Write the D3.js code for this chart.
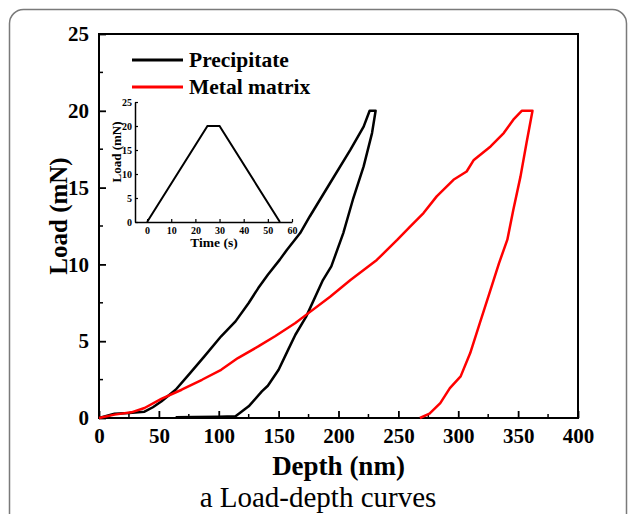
<!DOCTYPE html>
<html><head><meta charset="utf-8">
<script src="https://cdn.jsdelivr.net/npm/d3@7"></script>
<style>body{margin:0;background:#fff}svg{display:block}</style>
</head><body><svg id="c" width="629" height="514"></svg>
<script>
// ---- data ----
const seriesNames = ["Precipitate", "Metal matrix"];
const precipDepth = [0,13,25,38,45,52,64,75,88,102,114,125,133,141,151,157,168,176,193,210,221,226,231,228,221,212,204,194,187,173,164,158,150,141,136,125,114,100,80,64];
const precipLoad  = [0,0.28,0.33,0.41,0.7,1.07,1.84,2.82,4.01,5.32,6.29,7.49,8.46,9.33,10.31,10.96,12.04,13.12,15.3,17.47,18.97,20,20,18.55,16.38,14.21,12.04,9.87,8.98,6.6,5.42,4.45,3.14,2.1,1.73,0.76,0.11,0.08,0.06,0.05];
const metalDepth = [0,13,27,38,52,69,86,102,116,133,147,164,171,193,210,232,249,260,271,282,296,307,313,327,338,346,353,362,357,352,346,341,334,326,318,310,302,293,285,276,268];
const metalLoad  = [0,0.22,0.37,0.65,1.24,1.84,2.49,3.14,3.9,4.66,5.32,6.18,6.6,7.9,8.98,10.29,11.59,12.47,13.34,14.43,15.51,16.05,16.8,17.68,18.55,19.42,20,20,17.9,15.73,13.56,11.61,10.07,8.12,6.18,4.23,2.71,1.95,0.97,0.28,0];
const xTicks = [0,50,100,150,200,250,300,350,400];
const yTicks = [0,5,10,15,20,25];
// inset: load-time program
const insetTime = [0,25,30,55];
const insetLoad = [0,20,20,0];
const insetXTicks = [0,10,20,30,40,50,60];
const insetYTicks = [0,5,10,15,20,25];

const svg = d3.select("#c");
const F = "'Liberation Serif','Times New Roman',serif";

// outer rounded frame
svg.append("rect").attr("x",9.5).attr("y",9.5).attr("width",617).attr("height",560)
  .attr("rx",14).attr("fill","#fff").attr("stroke","#7a7a7a").attr("stroke-width",1.5);

const L=99, R=578, T=34, B=418;
const x = d3.scaleLinear().domain([0,400]).range([L,R]);
const y = d3.scaleLinear().domain([0,25]).range([B,T]);

// minor ticks
const g = svg.append("g");
d3.range(25,400,50).forEach(v=>g.append("line").attr("x1",x(v)).attr("x2",x(v)).attr("y1",B).attr("y2",B-4).attr("stroke","#000").attr("stroke-width",1.5));
d3.range(2.5,25,5).forEach(v=>g.append("line").attr("y1",y(v)).attr("y2",y(v)).attr("x1",L).attr("x2",L+4).attr("stroke","#000").attr("stroke-width",1.5));

const xAxis = svg.append("g").attr("transform",`translate(0,${B})`)
  .call(d3.axisBottom(x).tickValues(xTicks).tickSizeInner(-7).tickSizeOuter(0).tickPadding(10));
const yAxis = svg.append("g").attr("transform",`translate(${L},0)`)
  .call(d3.axisLeft(y).tickValues(yTicks).tickSizeInner(-7).tickSizeOuter(0).tickPadding(10));
[xAxis,yAxis].forEach(a=>{
  a.select(".domain").remove();
  a.selectAll("line").attr("stroke","#000").attr("stroke-width",1.8);
  a.selectAll("text").attr("font-family",F).attr("font-weight","bold").attr("font-size",21).attr("fill","#000");
});
// frame
svg.append("rect").attr("x",L).attr("y",T).attr("width",R-L).attr("height",B-T)
  .attr("fill","none").attr("stroke","#000").attr("stroke-width",2);

// axis titles
svg.append("text").attr("x",(L+R)/2).attr("y",475).attr("text-anchor","middle")
  .attr("font-family",F).attr("font-weight","bold").attr("font-size",27).text("Depth (nm)");
svg.append("text").attr("transform","translate(67,216) rotate(-90)").attr("text-anchor","middle")
  .attr("font-family",F).attr("font-weight","bold").attr("font-size",25).text("Load (mN)");
svg.append("text").attr("x",318).attr("y",507).attr("text-anchor","middle")
  .attr("font-family",F).attr("font-size",29).text("a Load-depth curves");

// curves
const line = d3.line().x(d=>x(d[0])).y(d=>y(d[1]));
const colors = ["#000","#ff0000"];
const series = [d3.zip(precipDepth,precipLoad), d3.zip(metalDepth,metalLoad)];
series.forEach((s,i)=>svg.append("path").datum(s).attr("d",line).attr("fill","none")
  .attr("stroke",colors[i]).attr("stroke-width",2.5).attr("stroke-linejoin","round"));

// legend
seriesNames.forEach((n,i)=>{
  const yy = 60 + i*27;
  svg.append("line").attr("x1",132).attr("x2",183).attr("y1",yy).attr("y2",yy)
    .attr("stroke",colors[i]).attr("stroke-width",3);
  svg.append("text").attr("x",189).attr("y",yy+7).attr("font-family",F).attr("font-weight","bold")
    .attr("font-size",21.5).text(n);
});

// inset
const ix = d3.scaleLinear().domain([-5,60]).range([135,292]);
const iy = d3.scaleLinear().domain([0,25]).range([222,102]);
const ixa = svg.append("g").attr("transform","translate(0,222)")
  .call(d3.axisBottom(ix).tickValues(insetXTicks).tickSizeInner(-3).tickSizeOuter(0).tickPadding(5));
const iya = svg.append("g").attr("transform","translate(135,0)")
  .call(d3.axisLeft(iy).tickValues(insetYTicks).tickSizeInner(-3).tickSizeOuter(0).tickPadding(3));
[ixa,iya].forEach(a=>{
  a.select(".domain").attr("stroke","#000").attr("stroke-width",1.5);
  a.selectAll("line").attr("stroke","#000").attr("stroke-width",1.2);
  a.selectAll("text").attr("font-family",F).attr("font-weight","bold").attr("font-size",10).attr("fill","#000");
});
svg.append("path").datum(d3.zip(insetTime,insetLoad))
  .attr("d",d3.line().x(d=>ix(d[0])).y(d=>iy(d[1]))).attr("fill","none")
  .attr("stroke","#000").attr("stroke-width",2);
svg.append("text").attr("x",214).attr("y",247).attr("text-anchor","middle")
  .attr("font-family",F).attr("font-weight","bold").attr("font-size",13.5).text("Time (s)");
svg.append("text").attr("transform","translate(121,152) rotate(-90)").attr("text-anchor","middle")
  .attr("font-family",F).attr("font-weight","bold").attr("font-size",13).text("Load (mN)");
</script></body></html>
